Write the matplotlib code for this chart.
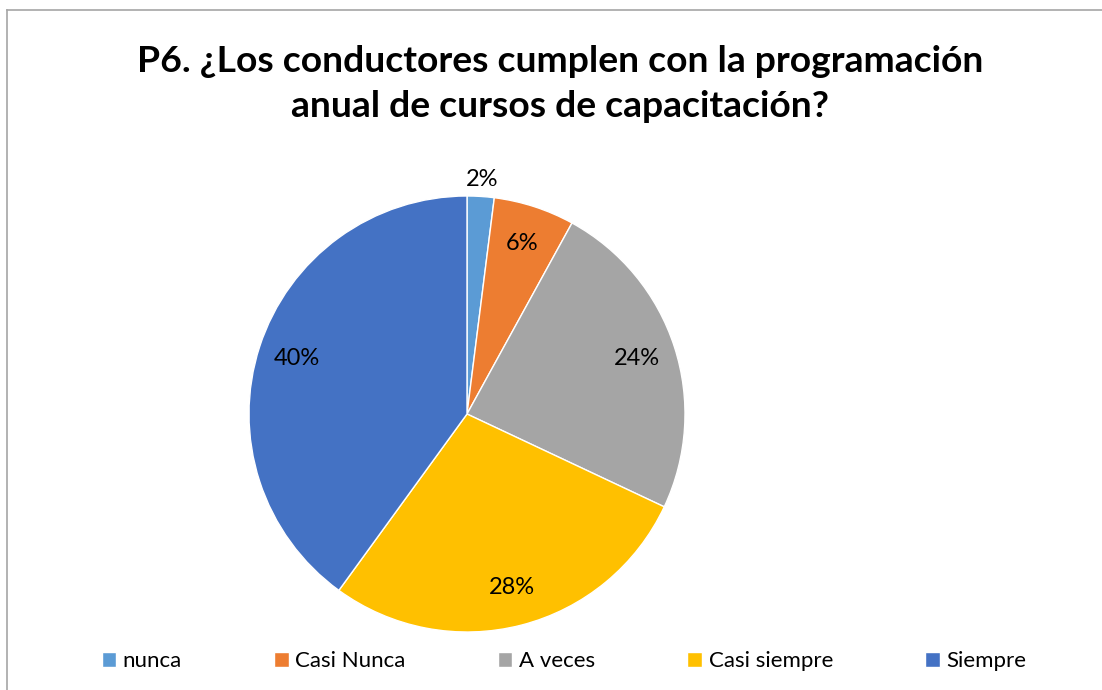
import matplotlib.pyplot as plt
from matplotlib.lines import Line2D

categories = ["nunca", "Casi Nunca", "A veces", "Casi siempre", "Siempre"]
values = [2, 6, 24, 28, 40]
colors = ["#5B9BD5", "#ED7D31", "#A5A5A5", "#FFC000", "#4472C4"]
title = "P6. ¿Los conductores cumplen con la programación\nanual de cursos de capacitación?"

plt.rcParams['font.family'] = ['Lato', 'DejaVu Sans']

W, H = 1102, 690
fig = plt.figure(figsize=(W / 100, H / 100), dpi=100)

# chart border (only top/left visible in the crop)
bc = "#A6A6A6"
fig.add_artist(Line2D([7 / W, 1], [1 - 10 / H, 1 - 10 / H], color=bc, lw=1.2, transform=fig.transFigure))
fig.add_artist(Line2D([7 / W, 7 / W], [0, 1 - 10 / H], color=bc, lw=1.2, transform=fig.transFigure))

cx, cy, r = 467, 414, 218
ax = fig.add_axes([(cx - r) / W, (H - cy - r) / H, 2 * r / W, 2 * r / H])
wedges, texts, autotexts = ax.pie(values, colors=colors, startangle=90, counterclock=False,
                                  autopct=lambda p: f"{p:.0f}%", pctdistance=0.82,
                                  wedgeprops=dict(edgecolor="white", linewidth=1),
                                  textprops=dict(fontsize=17, color="#000000"))
ax.set_xlim(-1, 1)
ax.set_ylim(-1, 1)
ax.set_aspect("equal")

# small slice label sits outside
x, y = autotexts[0].get_position()
autotexts[0].set_position((x / 0.82 * 1.08, y / 0.82 * 1.08))

fig.text(0.508, 1 - 84 / H, title, ha="center", va="center", fontsize=26.8,
         fontweight="bold", linespacing=1.45, color="#000000")

fig.legend(wedges, categories, loc="center", bbox_to_anchor=(564 / W, 1 - 661 / H), ncol=5,
           frameon=False, fontsize=16, handlelength=0.65, handleheight=0.65,
           handletextpad=0.3, columnspacing=4.15)

fig.savefig("out.png", dpi=100)
